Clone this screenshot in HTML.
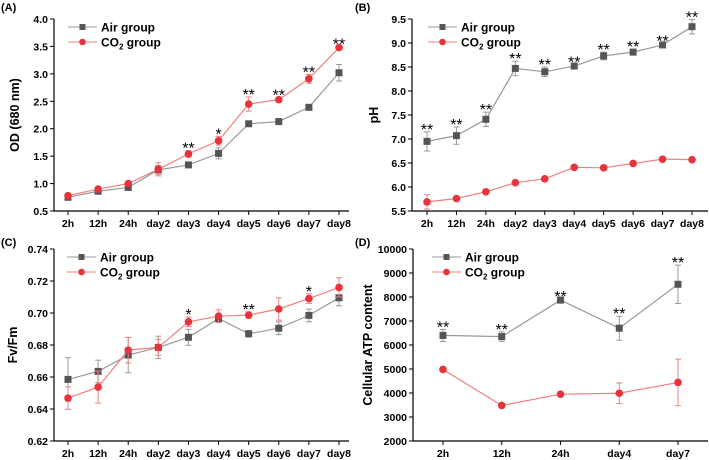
<!DOCTYPE html>
<html><head><meta charset="utf-8"><style>
body{margin:0;background:#fff}
svg{display:block;font-family:"Liberation Sans",Arial,sans-serif;font-weight:bold}
</style></head><body>
<svg id="s" width="709" height="460"></svg>
<script>
const catsA=["2h","12h","24h","day2","day3","day4","day5","day6","day7","day8"];
const airA=[0.75,0.86,0.93,1.25,1.34,1.55,2.09,2.13,2.39,3.02];
const airAErr=[0.03,0.03,0.05,0.08,0.03,0.1,0.02,0.03,0.03,0.15];
const co2A=[0.78,0.90,1.00,1.26,1.54,1.78,2.45,2.53,2.91,3.48];
const co2AErr=[0.03,0.03,0.03,0.12,0.06,0.08,0.13,0.04,0.08,0.02];
const starsA=["","","","","**","*","**","**","**","**"];
const ticksA=[0.5,1.0,1.5,2.0,2.5,3.0,3.5,4.0];
const airB=[6.95,7.07,7.41,8.47,8.40,8.52,8.73,8.81,8.96,9.34];
const airBErr=[0.2,0.18,0.15,0.15,0.1,0.03,0.08,0.06,0.03,0.15];
const co2B=[5.69,5.76,5.90,6.09,6.17,6.41,6.40,6.49,6.58,6.57];
const co2BErr=[0.15,0.03,0.03,0.03,0.03,0.03,0.03,0.03,0.03,0.03];
const starsB=["**","**","**","**","**","**","**","**","**","**"];
const ticksB=[5.5,6.0,6.5,7.0,7.5,8.0,8.5,9.0,9.5];
const airC=[0.6585,0.6635,0.6737,0.6785,0.6848,0.6965,0.687,0.6905,0.6985,0.7095];
const airCErr=[0.0135,0.007,0.011,0.007,0.005,0.002,0.002,0.004,0.004,0.005];
const co2C=[0.6468,0.6537,0.6768,0.6785,0.6945,0.698,0.6987,0.7025,0.709,0.716];
const co2CErr=[0.007,0.010,0.008,0.005,0.003,0.004,0.002,0.007,0.003,0.006];
const starsC=["","","","","*","","**","","*",""];
const ticksC=[0.62,0.64,0.66,0.68,0.70,0.72,0.74];
const catsD=["2h","12h","24h","day4","day7"];
const airD=[6400,6350,7870,6700,8530];
const airDErr=[250,200,50,500,800];
const co2D=[4980,3480,3950,3990,4440];
const co2DErr=[50,50,50,430,970];
const starsD=["**","**","**","**","**"];
const ticksD=[2000,3000,4000,5000,6000,7000,8000,9000,10000];

const NS="http://www.w3.org/2000/svg";
const svg=document.getElementById('s');
function mk(tag,at,parent,txt){const e=document.createElementNS(NS,tag);for(const k in at)e.setAttribute(k,at[k]);if(txt!==undefined)e.textContent=txt;(parent||svg).appendChild(e);return e;}
const GRAY="#555",RED="#e8323c",GL="#999",RL="#f08080";
function panel(o){
  const g=mk('g',{});
  
  
  const ymin=o.ticks[0],ymax=o.ticks[o.ticks.length-1];
  const Y=v=>o.yb-(v-ymin)/(ymax-ymin)*(o.yb-o.yt);
  const X=i=>o.x0+i*(o.x1-o.x0)/(o.cats.length-1);
  const lbl=mk('text',{x:o.lx,y:o.ly,'font-size':11},g,o.label);
  
  const ya=mk('line',{x1:o.ax,x2:o.ax,y1:o.yt,y2:o.yb,stroke:'#000','stroke-width':1.2},g);
  
  const xa=mk('line',{x1:o.ax,x2:o.axr,y1:o.yb,y2:o.yb,stroke:'#000','stroke-width':1.2},g);
  
  o.ticks.forEach(t=>{
    mk('line',{x1:o.ax-4,x2:o.ax,y1:Y(t),y2:Y(t),stroke:'#000'},g);
    const tx=mk('text',{x:o.ax-6,y:Y(t)+4,'font-size':10.5,'text-anchor':'end'},g,o.fmt(t));
    
  });
  o.cats.forEach((c,i)=>{
    mk('line',{x1:X(i),x2:X(i),y1:o.yb,y2:o.yb+4,stroke:'#000'},g);
    const tx=mk('text',{x:X(i),y:o.yb+16,'font-size':10.5,'text-anchor':'middle'},g,c);
    
  });
  const yt=mk('text',{transform:`translate(${o.tx},${(o.yt+o.yb)/2}) rotate(-90)`,'font-size':12.5,'text-anchor':'middle'},g,o.ytitle);
  
  function series(vals,errs,col,lc,sq,nm){
    const sg=mk('g',{},g);
    
    vals.forEach((v,i)=>{
      const x=X(i);
      mk('line',{x1:x,x2:x,y1:Y(v-errs[i]),y2:Y(v+errs[i]),stroke:lc,'stroke-width':1},sg);
      mk('line',{x1:x-3,x2:x+3,y1:Y(v-errs[i]),y2:Y(v-errs[i]),stroke:lc},sg);
      mk('line',{x1:x-3,x2:x+3,y1:Y(v+errs[i]),y2:Y(v+errs[i]),stroke:lc},sg);
    });
    mk('polyline',{points:vals.map((v,i)=>X(i)+','+Y(v)).join(' '),fill:'none',stroke:lc,'stroke-width':1.2},sg);
    vals.forEach((v,i)=>{
      const m=sq?mk('rect',{x:X(i)-3.5,y:Y(v)-3.5,width:7,height:7,fill:col},sg):mk('circle',{cx:X(i),cy:Y(v),r:3.8,fill:col},sg);
      
    });
  }
  series(o.air,o.airE,GRAY,GL,true,'air-series');
  series(o.co2,o.co2E,RED,RL,false,'co2-series');
  o.stars.forEach((s,i)=>{
    if(!s)return;
    const top=Math.max(o.air[i]+o.airE[i],o.co2[i]+o.co2E[i]);
    const st=mk('text',{x:X(i),y:Y(top)+3,'font-size':16,'text-anchor':'middle','font-weight':'normal'},g,s);
    
  });
  const lg=mk('g',{},g);
  
  const lx=o.legx,ly1=o.yt+8,ly2=o.yt+23;
  const e1=mk('g',{},lg);
  mk('line',{x1:lx,x2:lx+29,y1:ly1,y2:ly1,stroke:GL},e1);
  mk('rect',{x:lx+11.5,y:ly1-3,width:6,height:6,fill:GRAY},e1);
  mk('text',{x:lx+33,y:ly1+4.5,'font-size':12},e1,'Air group');
  const e2=mk('g',{},lg);
  mk('line',{x1:lx,x2:lx+29,y1:ly2,y2:ly2,stroke:RL},e2);
  mk('circle',{cx:lx+14.5,cy:ly2,r:3.3,fill:RED},e2);
  const t2=mk('text',{x:lx+33,y:ly2+4.5,'font-size':12},e2);
  t2.appendChild(document.createTextNode('CO'));
  mk('tspan',{'font-size':8,dy:3},t2,'2');
  mk('tspan',{dy:-3},t2,' group');
}
panel({name:'panel-a-od',label:'(A)',lx:1,ly:11,ax:54,axr:349,yt:19,yb:211,x0:68,x1:339,cats:catsA,ticks:ticksA,fmt:t=>t.toFixed(1),ytitle:'OD (680 nm)',tx:19,air:airA,airE:airAErr,co2:co2A,co2E:co2AErr,stars:starsA,legx:68});
panel({name:'panel-b-ph',label:'(B)',lx:355,ly:11,ax:412,axr:708,yt:19,yb:211,x0:427,x1:692,cats:catsA,ticks:ticksB,fmt:t=>t.toFixed(1),ytitle:'pH',tx:378,air:airB,airE:airBErr,co2:co2B,co2E:co2BErr,stars:starsB,legx:428});
panel({name:'panel-c-fvfm',label:'(C)',lx:1,ly:246,ax:54,axr:349,yt:249,yb:441,x0:68,x1:339,cats:catsA,ticks:ticksC,fmt:t=>t.toFixed(2),ytitle:'Fv/Fm',tx:17,air:airC,airE:airCErr,co2:co2C,co2E:co2CErr,stars:starsC,legx:67});
panel({name:'panel-d-atp',label:'(D)',lx:355,ly:246,ax:413,axr:708,yt:249,yb:441,x0:443,x1:678,cats:catsD,ticks:ticksD,fmt:t=>String(t),ytitle:'Cellular ATP content',tx:372,air:airD,airE:airDErr,co2:co2D,co2E:co2DErr,stars:starsD,legx:432});
</script>
</body></html>
